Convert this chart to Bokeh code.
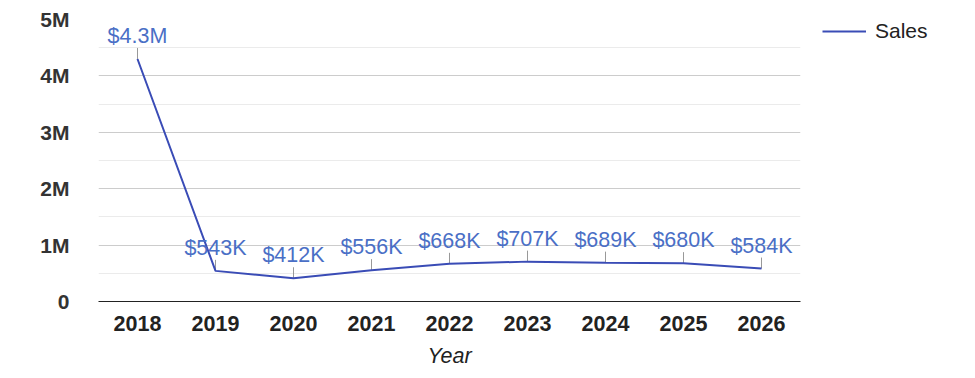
from bokeh.plotting import figure
from bokeh.layouts import row
from bokeh.models import (ColumnDataSource, Range1d, FactorRange, FixedTicker,
                          Legend, LegendItem)
from bokeh.embed import file_html
from bokeh.resources import INLINE
from bokeh.core.properties import value

years = ["2018", "2019", "2020", "2021", "2022", "2023", "2024", "2025", "2026"]
sales = [4300000, 543000, 412000, 556000, 668000, 707000, 689000, 680000, 584000]
sales_labels = ["$4.3M", "$543K", "$412K", "$556K", "$668K", "$707K", "$689K", "$680K", "$584K"]
y_ticks = [0, 1000000, 2000000, 3000000, 4000000, 5000000]
y_tick_labels = ["0", "1M", "2M", "3M", "4M", "5M"]
y_minor = [500000, 1500000, 2500000, 3500000, 4500000]

FONT = "Liberation Sans"
LINE_COLOR = "#3a4cb6"

src = ColumnDataSource(dict(year=years, sales=sales, label=sales_labels))

p = figure(width=805, height=370, x_range=FactorRange(*years),
           y_range=Range1d(0, 5000000), output_backend="svg",
           toolbar_location=None, min_border_left=98, min_border_right=5,
           min_border_top=19, min_border_bottom=69, title_location=None)
p.outline_line_color = None
p.background_fill_color = "white"

# grid
p.xgrid.grid_line_color = None
p.yaxis.ticker = FixedTicker(ticks=y_ticks, minor_ticks=y_minor)
p.ygrid.grid_line_color = "#cccccc"
p.ygrid.minor_grid_line_color = "#ebebeb"

# axes
p.yaxis.major_label_overrides = {t: l for t, l in zip(y_ticks, y_tick_labels)}
p.yaxis.axis_line_color = None
p.yaxis.major_tick_line_color = None
p.yaxis.minor_tick_line_color = None
p.yaxis.major_label_text_font = FONT
p.yaxis.major_label_text_font_size = "21px"
p.yaxis.major_label_text_font_style = "bold"
p.yaxis.major_label_text_color = "#333333"
p.yaxis.major_label_standoff = 23

p.xaxis.axis_line_color = "#222222"
p.xaxis.axis_line_width = 1
p.xaxis.major_tick_line_color = None
p.xaxis.major_tick_out = 0
p.xaxis.major_label_text_font = FONT
p.xaxis.major_label_text_font_size = "21.5px"
p.xaxis.major_label_text_font_style = "bold"
p.xaxis.major_label_text_color = "#222222"
p.xaxis.major_label_standoff = 14
p.xaxis.axis_label = "Year"
p.xaxis.axis_label_text_font = FONT
p.xaxis.axis_label_text_font_size = "21.5px"
p.xaxis.axis_label_text_font_style = "italic"
p.xaxis.axis_label_text_color = "#222222"
p.xaxis.axis_label_standoff = 10

# leader lines
p.ray(x="year", y="sales", source=src, length=11, length_units="screen",
      angle=1.5707963, line_color="#999999", line_width=1)

# line
p.line(x="year", y="sales", source=src, line_color=LINE_COLOR, line_width=2)

# labels
p.text(x="year", y="sales", text="label", source=src, y_offset=-23,
       text_align="center", text_baseline="middle",
       text_font=value(FONT), text_font_size="21.5px", text_color="#4a6fc6")

# legend panel (separate figure; its line sits outside its visible range)
lg = figure(width=162, height=370, x_range=FactorRange(*years),
            y_range=Range1d(-2, -1), output_backend="svg",
            toolbar_location=None, x_axis_location=None, y_axis_location=None,
            min_border_left=17, min_border_right=0, min_border_top=0,
            min_border_bottom=0, title_location=None)
lg.outline_line_color = None
lg.xgrid.grid_line_color = None
lg.ygrid.grid_line_color = None
lr = lg.line(x="year", y="sales", source=src, line_color=LINE_COLOR, line_width=2)
legend = Legend(items=[LegendItem(label="Sales", renderers=[lr])],
                location="top_left", margin=0, padding=0,
                glyph_width=44, label_standoff=9, border_line_color=None,
                background_fill_alpha=0,
                label_text_font=FONT, label_text_font_size="21px",
                label_text_color="#222222")
lg.add_layout(legend)

layout = row(p, lg, spacing=0)
open("out.html", "w").write(file_html(layout, INLINE))
